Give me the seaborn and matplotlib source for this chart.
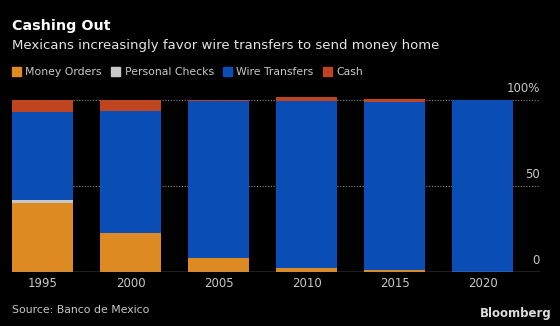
import matplotlib
matplotlib.use("Agg")
import matplotlib.pyplot as plt
import matplotlib.transforms as mtransforms
import seaborn as sns
import pandas as pd
import numpy as np

years = ["1995", "2000", "2005", "2010", "2015", "2020"]
money_orders = [40.0, 22.3, 8.1, 2.0, 1.1, 0.1]
personal_checks = [1.4, 0.2, 0.0, 0.0, 0.0, 0.0]
wire_transfers = [51.3, 70.7, 91.1, 97.4, 97.3, 99.5]
cash = [7.3, 6.8, 0.8, 2.1, 2.0, 0.4]

series_names = ["Money Orders", "Personal Checks", "Wire Transfers", "Cash"]
series_vals = [money_orders, personal_checks, wire_transfers, cash]
colors = ["#DE8A22", "#C8C8C8", "#0A4EB5", "#BF4420"]

y_ticks = [0, 50, 100]
y_tick_labels = ["0", "50", "100%"]

sns.set_theme(style="white")
plt.rcParams["font.family"] = ["DejaVu Sans"]

W, H = 560, 326
fig = plt.figure(figsize=(W / 100, H / 100), dpi=100, facecolor="black")
ax = fig.add_axes([12 / W, (H - 271.7) / H, 528 / W, 181.5 / H])
ax.set_facecolor("black")

df = pd.DataFrame({"year": years})
for name, vals in zip(series_names, series_vals):
    df[name] = vals
cum = df[series_names].cumsum(axis=1)

handles = []
for name, col in reversed(list(zip(series_names, colors))):
    sns.barplot(x=df["year"], y=cum[name], color=col, width=0.69,
                saturation=1, ax=ax, zorder=3, linewidth=0)
    handles.append(plt.Rectangle((0, 0), 1, 1, color=col))
handles = handles[::-1]

ax.set_xlim(-0.345, 5.65)
ax.set_ylim(0, 105.5)

for t in [50, 100]:
    ax.axhline(t, color="#8a8a8a", linestyle=(0, (1, 1.5)), linewidth=0.8, zorder=1)
ax.axhline(0, color="#9a9a9a", linewidth=1.0, zorder=4)

ax.set_yticks([])
trans = mtransforms.blended_transform_factory(ax.transAxes, ax.transData)
for v, lab in zip(y_ticks, y_tick_labels):
    ax.text(1.0, v + 2.5, lab, transform=trans, ha="right", va="bottom",
            color="#c8c8c8", fontsize=8.5)

ax.set_xlabel("")
ax.set_ylabel("")
ax.tick_params(axis="x", colors="#c8c8c8", labelsize=8.5, length=0, pad=4)
for s in ax.spines.values():
    s.set_visible(False)

fig.text(12 / W, 1 - 26 / H, "Cashing Out", color="white", fontsize=10.3,
         fontweight="bold", va="center", ha="left")
fig.text(12 / W, 1 - 46 / H, "Mexicans increasingly favor wire transfers to send money home",
         color="#e6e6e6", fontsize=9.5, va="center", ha="left")

leg = fig.legend(handles, series_names, loc="center left",
                 bbox_to_anchor=(2 / W, 1 - 72 / H), ncol=4, frameon=False,
                 fontsize=7.8, handlelength=0.85, handleheight=0.85,
                 handletextpad=0.4, columnspacing=0.85, labelcolor="#c8c8c8")

fig.text(12 / W, 1 - 310 / H, "Source: Banco de Mexico", color="#c8c8c8",
         fontsize=7.8, va="center", ha="left")
fig.text(552 / W, 1 - 314 / H, "Bloomberg", color="#dddddd", fontsize=8.5,
         fontweight="bold", va="center", ha="right")

fig.savefig("out.png", dpi=100, facecolor="black")
